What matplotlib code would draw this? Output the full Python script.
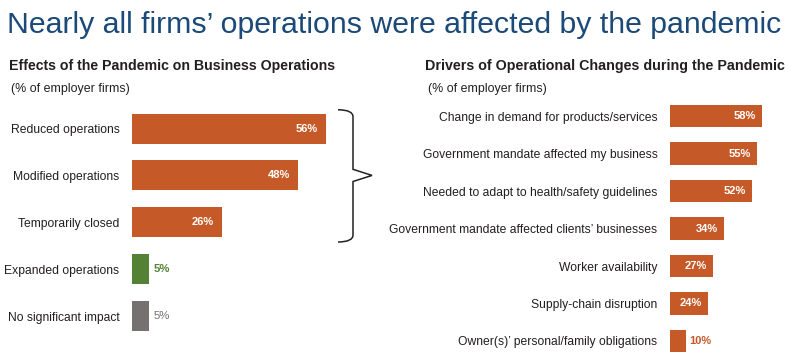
import numpy as np
import matplotlib.pyplot as plt
from matplotlib.path import Path
from matplotlib.patches import PathPatch
from matplotlib.transforms import blended_transform_factory

# ------------------------------------------------------------------ #
#   Data
# ------------------------------------------------------------------ #
effects = ["Reduced operations", "Modified operations", "Temporarily closed",
           "Expanded operations", "No significant impact"]
effects_pct = [56, 48, 26, 5, 5]

drivers = ["Change in demand for products/services",
           "Government mandate affected my business",
           "Needed to adapt to health/safety guidelines",
           "Government mandate affected clients\u2019 businesses",
           "Worker availability",
           "Supply-chain disruption",
           "Owner(s)\u2019 personal/family obligations"]
drivers_pct = [58, 55, 52, 34, 27, 24, 10]

ORANGE = "#c55a28"
GREEN = "#548235"
GREY = "#767171"
NAVY = "#1b4a78"
TEXT = "#231f20"

plt.rcParams["font.family"] = ["Liberation Sans", "DejaVu Sans"]

W, H = 800, 357
fig = plt.figure(figsize=(W / 100, H / 100), dpi=100)


def px_axes(x0, y_top, w, h):
    """Axes placed by pixel box (top-left origin)."""
    return fig.add_axes([x0 / W, 1 - (y_top + h) / H, w / W, h / H])


# ------------------------------------------------------------------ #
#   Titles
# ------------------------------------------------------------------ #
fig.text(7 / W, 1 - 33 / H, "Nearly all firms\u2019 operations were affected by the pandemic",
         fontsize=21.8, color=NAVY, va="baseline", ha="left")
fig.text(9 / W, 1 - 70 / H, "Effects of the Pandemic on Business Operations",
         fontsize=10.2, fontweight="bold", color=TEXT, va="baseline")
fig.text(11 / W, 1 - 92 / H, "(% of employer firms)", fontsize=8.9, color=TEXT, va="baseline")
fig.text(425 / W, 1 - 70 / H, "Drivers of Operational Changes during the Pandemic",
         fontsize=10.3, fontweight="bold", color=TEXT, va="baseline")
fig.text(428 / W, 1 - 92 / H, "(% of employer firms)", fontsize=8.9, color=TEXT, va="baseline")

# ------------------------------------------------------------------ #
#   Left panel
# ------------------------------------------------------------------ #
left_scale = 194 / 56  # px per %
ax1 = px_axes(132, 105.1, 248, 234.4)
y1 = np.arange(len(effects))
colors1 = [ORANGE, ORANGE, ORANGE, GREEN, GREY]
ax1.barh(y1, effects_pct, height=0.64, color=colors1)
ax1.set_xlim(0, 248 / left_scale)
ax1.set_ylim(len(effects) - 0.5, -0.5)
ax1.set_yticks(y1, effects, fontsize=8.7, color=TEXT)
ax1.tick_params(axis="y", length=0, pad=9)
ax1.set_xticks([])
for s in ax1.spines.values():
    s.set_visible(False)
for yi, v, c in zip(y1, effects_pct, colors1):
    if v >= 15:
        ax1.text(v - 2.5, yi, f"{v}%", ha="right", va="center", color="white",
                 fontsize=8, fontweight="bold")
    else:
        ax1.text(v + 1.2, yi, f"{v}%", ha="left", va="center", color=c,
                 fontsize=8.2, fontweight="bold" if c == GREEN else "normal")

# brace grouping the first three bars
tr = blended_transform_factory(ax1.transAxes, ax1.transData)
bx0, bx1, tip = 206 / 248, 221 / 248, 240 / 248
top, bot = -0.5 + 0.1, 2 + 0.32 + 0.1
mid = 1.0
verts = [(bx0, top), (bx1, top), (bx1, top + 0.15),
         (bx1, mid - 0.13), (tip, mid), (bx1, mid + 0.13),
         (bx1, bot - 0.15), (bx1, bot), (bx0, bot)]
codes = [Path.MOVETO, Path.CURVE3, Path.CURVE3,
         Path.LINETO, Path.LINETO, Path.LINETO,
         Path.LINETO, Path.CURVE3, Path.CURVE3]
ax1.add_patch(PathPatch(Path(verts, codes), transform=tr, fill=False,
                        lw=1.1, color="#222222", clip_on=False))

# ------------------------------------------------------------------ #
#   Right panel
# ------------------------------------------------------------------ #
right_scale = 92 / 58
ax2 = px_axes(670, 97.25, 130, 262.5)
y2 = np.arange(len(drivers))
ax2.barh(y2, drivers_pct, height=0.59, color=ORANGE)
ax2.set_xlim(0, 130 / right_scale)
ax2.set_ylim(len(drivers) - 0.5, -0.5)
ax2.set_yticks(y2, drivers, fontsize=8.7, color=TEXT)
ax2.tick_params(axis="y", length=0, pad=9)
ax2.set_xticks([])
for s in ax2.spines.values():
    s.set_visible(False)
for yi, v in zip(y2, drivers_pct):
    if v >= 15:
        ax2.text(v - 4, yi, f"{v}%", ha="right", va="center", color="white",
                 fontsize=8, fontweight="bold")
    else:
        ax2.text(v + 2, yi, f"{v}%", ha="left", va="center", color=ORANGE,
                 fontsize=8, fontweight="bold")

fig.savefig("out.png", dpi=100)
